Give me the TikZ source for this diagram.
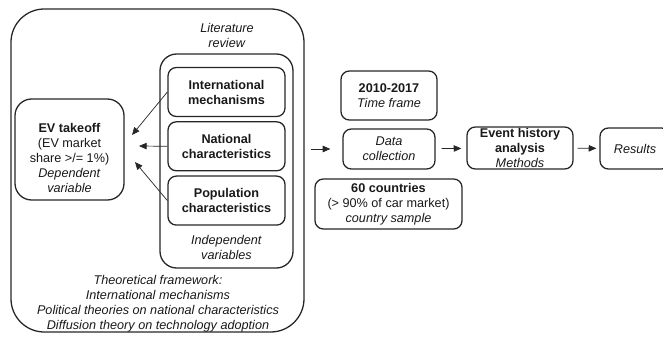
\documentclass[tikz,border=0pt]{standalone}
\usepackage{fontspec}
\setmainfont{Liberation Sans}
\usetikzlibrary{arrows.meta, positioning}

\begin{document}
\begin{tikzpicture}[
    x=0.03cm, y=-0.03cm,
    every node/.style={font=\fontsize{10.8}{12.8}\selectfont, text=black!90, align=center},
    panel/.style={rectangle, draw=black!85, line width=1.1pt},
    box/.style={panel, rounded corners=0.25cm},
    var/.style={box, minimum width=3.51cm, minimum height=1.47cm},
    link/.style={draw=black!85, line width=0.6pt, -{Triangle[length=6.5pt, width=5.5pt]}}
]
    \clip (0,0) rectangle (663,337);

    % Theoretical framework (outer frame)
    \node[panel, rounded corners=1cm, minimum width=8.79cm, minimum height=9.69cm] (theory) at (157.5,170.5) {};
    \node (theorytext) at (158,303.5) {\textit{Theoretical framework:}\\ \textit{International mechanisms}\\ \textit{Political theories on national characteristics}\\ \textit{Diffusion theory on technology adoption}};

    % Literature review (independent variables)
    \node (litrev) at (227,35.5) {\textit{Literature}\\ \textit{review}};
    \node[panel, rounded corners=0.5cm, minimum width=3.99cm, minimum height=6.42cm] (indep) at (226.5,161) {};
    \node[var] (intl) at (226.5,92) {\textbf{International}\\ \textbf{mechanisms}};
    \node[var, below=0.12cm of intl] (natl) {\textbf{National}\\ \textbf{characteristics}};
    \node[var, below=0.12cm of natl] (popl) {\textbf{Population}\\ \textbf{characteristics}};
    \node (indeptext) at (226.5,247) {\textit{Independent}\\ \textit{variables}};

    % Dependent variable
    \node[box, rounded corners=0.5cm, minimum width=3.27cm, minimum height=3.03cm] (takeoff) at (69.5,149.5) {};
    \node (takeofftext) at (69.5,158) {\textbf{EV takeoff}\\ (EV market\\ share >/= 1\%)\\ \textit{Dependent}\\ \textit{variable}};

    \coordinate (tipA) at (132,135);
    \coordinate (tipB) at (139,146);
    \coordinate (tipC) at (135,162);
    \draw[link] (intl.west) -- (tipA);
    \draw[link] (natl.west) -- (tipB);
    \draw[link] (popl.west) -- (tipC);

    % Data and methods
    \node[box, minimum width=2.88cm, minimum height=1.47cm] (period) at (389,95.5) {\textbf{2010-2017}\\ \textit{Time frame}};
    \node[box, minimum width=2.76cm, minimum height=1.2cm] (data) at (389,149) {\textit{Data}\\ \textit{collection}};
    \node[box, minimum width=4.41cm, minimum height=1.5cm] (sample) at (388.5,204) {\textbf{60 countries}\\ (> 90\% of car market)\\ \textit{country sample}};
    \node[box, inner sep=0pt, minimum width=3.18cm, minimum height=1.26cm] (eha) at (520,148) {\textbf{Event history}\\ \textbf{analysis}\\ \textit{Methods}};
    \node[box, minimum width=2.1cm, minimum height=1.23cm] (results) at (635,148.5) {\textit{Results}};

    \draw[link, shorten <=0.18cm, shorten >=0.36cm] (theory.east |- data.west) -- (data.west);
    \draw[link, shorten <=0.18cm, shorten >=0.15cm] (data) -- (eha);
    \draw[link, shorten <=0.12cm, shorten >=0.09cm] (eha) -- (results);

\end{tikzpicture}
\end{document}
